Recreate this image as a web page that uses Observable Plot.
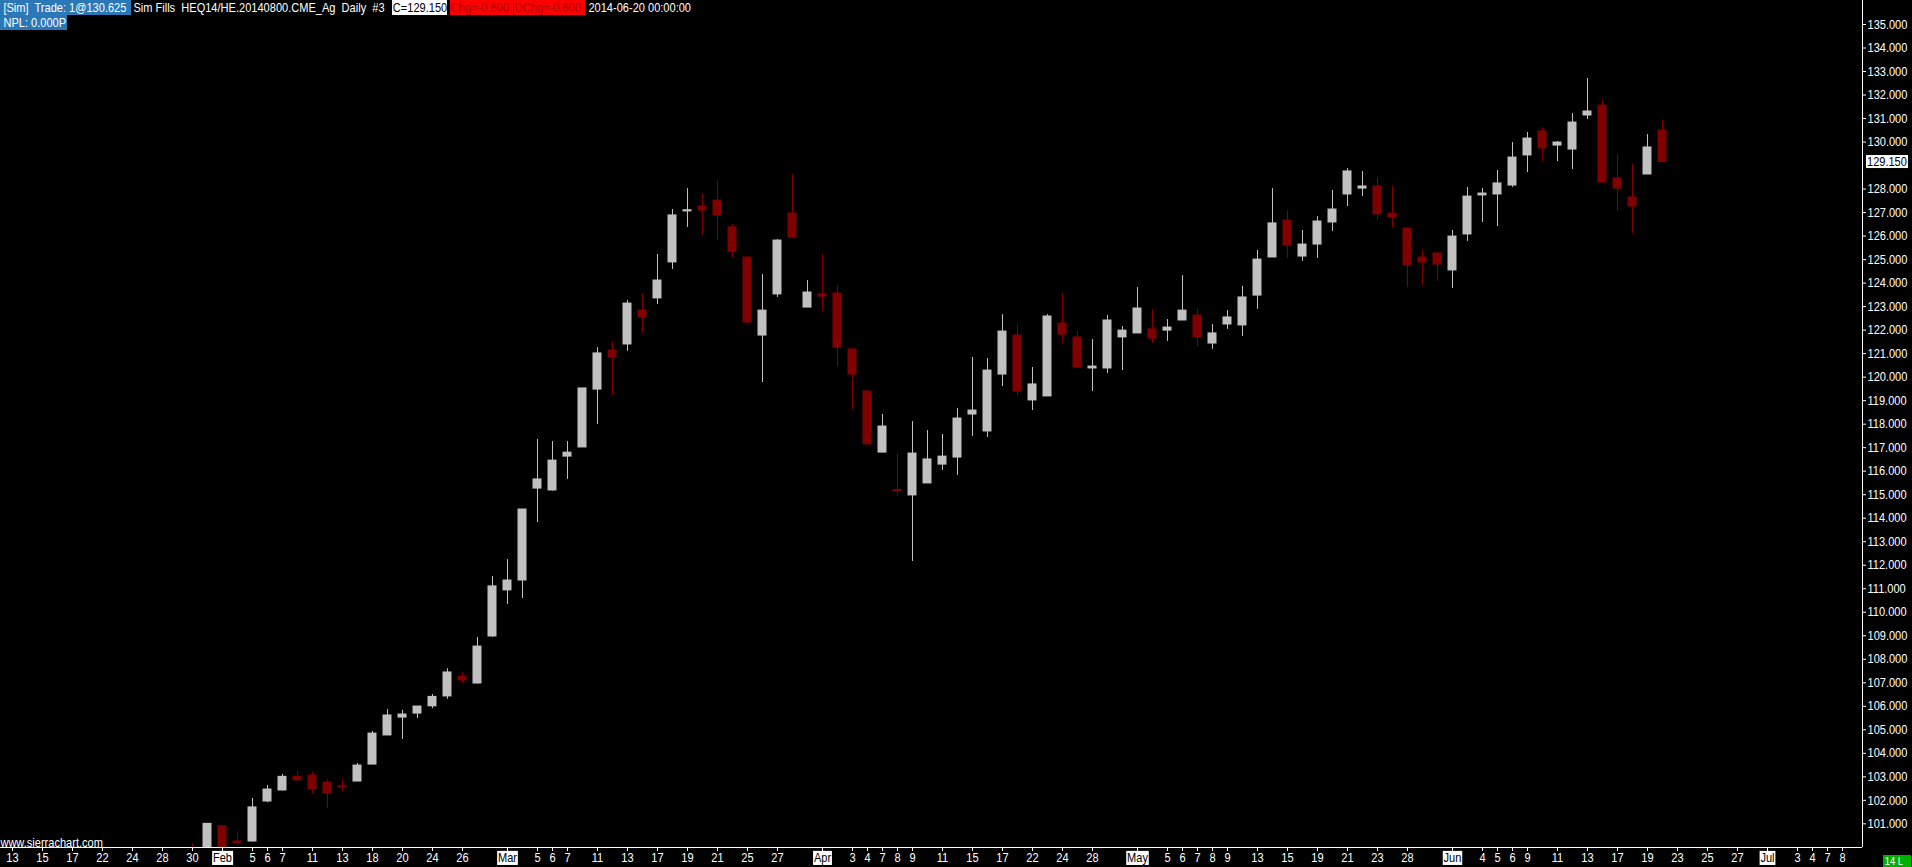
<!DOCTYPE html>
<html><head><meta charset="utf-8">
<script src="https://cdn.jsdelivr.net/npm/d3@7"></script>
<script src="https://cdn.jsdelivr.net/npm/@observablehq/plot@0.6"></script>
<style>
html,body{margin:0;padding:0;background:#000;overflow:hidden}
#wrap{position:relative;width:1912px;height:867px;font-family:"Liberation Sans",Arial,sans-serif;font-size:13px;color:#fff}
.hd{position:absolute;height:15px;line-height:15px;white-space:pre;box-sizing:border-box;overflow:hidden}
.hd span{display:inline-block;transform:scaleX(0.85);transform-origin:0 50%;padding-left:4px}
</style></head><body><div id="wrap"></div>
<script>
// Session calendar (bar slots on the x axis)
const janDays = [13,14,15,16,17,21,22,23,24,27,28,29,30,31];
const febDays = [3,4,5,6,7,10,11,12,13,14,18,19,20,21,24,25,26,27,28];
const marDays = [3,4,5,6,7,10,11,12,13,14,17,18,19,20,21,24,25,26,27,28,31];
const aprDays = [1,2,3,4,7,8,9,10,11,14,15,16,17,21,22,23,24,25,28,29,30];
const mayDays = [1,2,5,6,7,8,9,12,13,14,15,16,19,20,21,22,23,27,28,29,30];
const junDays = [2,3,4,5,6,9,10,11,12,13,16,17,18,19,20,23,24,25,26,27,30];
const julDays = [1,2,3,4,7,8];
const monthNames = ["Jan","Feb","Mar","Apr","May","Jun","Jul"];

// x-axis labelled sessions ("M-D")
const tickDates = ["1-13","1-15","1-17","1-22","1-24","1-28","1-30","2-3","2-5","2-6","2-7","2-11","2-13","2-18","2-20","2-24","2-26",
 "3-3","3-5","3-6","3-7","3-11","3-13","3-17","3-19","3-21","3-25","3-27","4-1","4-3","4-4","4-7","4-8","4-9","4-11","4-15","4-17","4-22","4-24","4-28",
 "5-1","5-5","5-6","5-7","5-8","5-9","5-13","5-15","5-19","5-21","5-23","5-28","6-2","6-4","6-5","6-6","6-9","6-11","6-13","6-17","6-19","6-23","6-25","6-27",
 "7-1","7-3","7-4","7-7","7-8"];

// Price axis labels
const yTicks = [101,102,103,104,105,106,107,108,109,110,111,112,113,114,115,116,117,118,119,120,121,122,123,124,125,126,127,128,130,131,132,133,134,135];
const lastPrice = 129.15;

// Daily OHLC, HEQ14, from 2014-01-30 to 2014-06-20
const firstCandle = "1-30";
const opens = [99.9,99.7,100.9,100.25,100.25,101.95,102.42,103.0,103.06,102.76,102.6,102.8,103.52,104.76,105.52,105.69,106.0,106.42,107.25,106.97,108.97,
 110.93,111.35,115.26,115.18,116.62,117.01,119.47,121.13,121.39,122.83,123.35,124.88,127.05,127.26,127.51,126.37,125.09,121.77,123.52,126.96,122.96,
 123.52,123.56,121.18,119.39,116.79,115.2,114.97,115.48,116.28,116.58,118.41,117.69,120.11,121.77,119.01,119.18,122.28,121.69,120.37,120.37,121.69,
 121.86,122.03,121.98,122.41,122.62,121.43,122.24,122.2,123.47,125.09,126.66,125.13,125.64,126.58,127.77,128.02,128.11,126.96,126.32,125.09,125.26,
 124.54,126.07,127.73,127.77,128.15,129.43,130.45,129.85,129.68,131.13,131.55,128.45,127.64,128.62,130.49];
const highs = [100.15,101.0,100.93,100.67,102.08,102.63,103.1,103.23,103.19,102.89,102.84,103.57,104.93,105.86,105.82,105.99,106.5,107.6,107.45,108.93,111.52,
 112.24,114.37,117.35,117.26,117.26,119.52,121.26,121.52,123.26,123.52,125.22,127.13,128.02,127.81,128.36,126.49,125.09,124.37,125.85,128.62,124.11,
 125.22,123.9,121.18,119.39,118.41,116.71,118.11,117.73,117.56,118.67,120.84,120.79,122.66,122.24,120.41,122.66,123.56,121.94,121.6,122.62,122.15,
 123.81,122.88,122.45,124.32,122.92,122.24,122.83,123.86,125.39,128.02,127.09,126.24,126.83,127.94,128.87,128.75,128.49,128.11,126.35,125.43,125.3,
 126.24,128.07,128.02,128.79,129.98,130.41,130.62,130.02,131.21,132.7,131.77,129.47,129.04,130.32,130.92];
const lows = [99.3,99.5,99.6,100.08,100.22,101.9,102.4,102.8,102.29,101.65,102.38,102.8,103.52,104.76,104.59,105.48,105.9,106.3,106.97,106.95,108.93,
 110.33,110.58,113.82,115.15,115.65,117.01,117.99,119.22,121.09,121.86,123.09,124.58,126.37,126.03,125.81,125.05,122.32,119.77,123.39,125.94,122.96,
 122.75,120.45,118.62,117.14,116.79,114.92,112.16,115.48,116.03,115.82,117.48,117.43,119.6,119.18,118.58,119.18,121.39,120.41,119.39,120.16,120.28,
 121.86,121.43,121.52,122.41,121.3,121.18,122.03,121.73,122.88,125.09,125.05,124.92,125.05,126.2,127.26,127.68,126.66,126.37,123.81,123.9,124.07,
 123.77,125.77,126.58,126.41,128.07,128.7,129.17,129.17,128.83,130.96,128.28,127.05,126.11,128.62,129.13];
const closes = [99.6,101.0,99.85,100.17,101.7,102.46,103.0,102.85,102.46,102.29,102.55,103.48,104.84,105.61,105.65,105.99,106.4,107.44,107.1,108.54,111.1,
 111.35,114.37,115.65,116.45,116.79,119.52,121.01,120.84,123.13,122.54,124.11,126.88,127.1,127.09,126.88,125.34,122.32,122.83,125.81,125.94,123.6,
 123.43,121.26,120.11,117.14,117.9,115.15,116.75,116.5,116.62,118.24,118.58,120.28,121.94,119.39,119.69,122.58,121.81,120.41,120.45,122.41,121.98,
 122.92,121.64,122.11,122.83,121.69,121.86,122.54,123.39,125.0,126.54,125.6,125.64,126.62,127.13,128.75,128.11,126.92,126.79,124.75,124.88,124.79,
 125.98,127.68,127.81,128.24,129.34,130.15,129.73,129.98,130.83,131.3,128.28,128.02,127.26,129.77,129.15];

const UP = "#c0c0c0", DOWN = "#800000";
const SX = 0.85; // horizontal squeeze of the narrow chart font

const sessions = [];
[janDays,febDays,marDays,aprDays,mayDays,junDays,julDays].forEach((days,m) => days.forEach(d => sessions.push({m, d, key: `${m+1}-${d}`})));
const indexOf = key => sessions.findIndex(s => s.key === key);
const firstIdx = indexOf(firstCandle);
const bars = opens.map((o,k) => ({i: firstIdx + k, o, h: highs[k], l: lows[k], c: closes[k], up: closes[k] >= o}));
const tickIdx = tickDates.map(indexOf);
const labelOf = i => {
  const s = sessions[i];
  const prev = sessions[i-1];
  return (!prev || prev.m !== s.m) && i > 0 ? monthNames[s.m] : String(s.d);
};

const W = 1912, H = 867, mR = 50, mB = 20;
const xDomain = [-0.8, 123.3333];
const yDomain = [99.994, 136.021];

const chart = Plot.plot({
  width: W, height: H,
  marginLeft: 0, marginRight: mR, marginTop: 0, marginBottom: mB,
  style: {background: "#000", color: "#fff", fontFamily: '"Liberation Sans",Arial,sans-serif', fontSize: "13px"},
  x: {domain: xDomain, axis: null},
  y: {domain: yDomain, axis: null},
  color: {type: "identity"},
  marks: [
    Plot.ruleX(bars, {x: "i", y1: "l", y2: "h", stroke: d => d.up ? UP : DOWN, strokeWidth: 1, clip: true}),
    Plot.rect(bars, {x1: d => d.i - 0.3, x2: d => d.i + 0.3, y1: d => Math.min(d.o, d.c), y2: d => Math.max(d.o, d.c),
      fill: d => d.up ? UP : DOWN, insetTop: -0.5, insetBottom: -0.5, clip: true}),
    Plot.axisY({anchor: "right", ticks: yTicks, tickSize: 3, tickPadding: 2, tickFormat: d3.format(".3f"), stroke: "#fff", fill: "#fff"}),
    Plot.axisX({anchor: "bottom", ticks: tickIdx, tickSize: 4, tickPadding: 1, tickFormat: labelOf, stroke: "#fff", fill: "#fff"}),
    Plot.ruleX([xDomain[1]], {stroke: "#fff", strokeWidth: 1}),
    Plot.ruleY([yDomain[0]], {stroke: "#fff", strokeWidth: 1})
  ]
});

const wrap = document.getElementById("wrap");
wrap.appendChild(chart);
const svg = d3.select(chart);

// narrow the axis label glyphs
svg.selectAll('g[aria-label="y-axis tick label"] text, g[aria-label="x-axis tick label"] text').each(function() {
  const tr = this.getAttribute("transform") || "";
  this.setAttribute("transform", tr + ` scale(${SX},1)`);
});

// month labels: white box, black text
svg.selectAll('g[aria-label="x-axis tick label"] text').each(function() {
  const t = this.textContent;
  if (monthNames.includes(t)) {
    const b = this.getBBox();
    const r = document.createElementNS("http://www.w3.org/2000/svg", "rect");
    r.setAttribute("x", b.x - 1); r.setAttribute("y", b.y + 1); r.setAttribute("width", b.width + 2); r.setAttribute("height", b.height - 1);
    r.setAttribute("fill", "#fff");
    r.setAttribute("transform", this.getAttribute("transform"));
    this.parentNode.insertBefore(r, this);
    this.setAttribute("fill", "#000");
  }
});

// last price marker on the price axis
const ys = chart.scale("y");
const xs = chart.scale("x");
const py = ys.apply(lastPrice);
const px = xs.apply(xDomain[1]) + 4;
const g = svg.append("g");
g.append("rect").attr("x", px).attr("y", py - 6.5).attr("width", 42).attr("height", 13).attr("fill", "#fff");
g.append("text").attr("transform", `translate(${px + 1},${py}) scale(${SX},1)`).attr("dy", "0.36em")
  .attr("text-anchor", "start").attr("fill", "#000").attr("font-size", 13).text(d3.format(".3f")(lastPrice));

// header & overlays
const hdr = [
  {left: 0, top: 0, width: 131, bg: "#2a78b8", color: "#fff", text: "[Sim]  Trade: 1@130.625"},
  {left: 130, top: 0, bg: null, color: "#fff", text: "Sim Fills  HEQ14/HE.20140800.CME_Ag  Daily  #3"},
  {left: 392, top: 0, width: 55, bg: "#fff", color: "#000", text: "C=129.150", pad: 1},
  {left: 450, top: 0, width: 63, bg: "#ff0000", color: "#b00000", text: "Chg=-0.600", pad: 1},
  {left: 514, top: 0, width: 71, bg: "#ff0000", color: "#b00000", text: "DChg=-0.600", pad: 1},
  {left: 585, top: 0, bg: null, color: "#fff", text: "2014-06-20 00:00:00"},
  {left: 0, top: 15, width: 67, bg: "#2a78b8", color: "#fff", text: "NPL: 0.000P"},
  {left: -3, top: 835, bg: null, color: "#fff", text: "www.sierrachart.com"},
  {left: 1883, top: 855, width: 28, height: 12, bg: "#00b000", color: "#fff", text: "14 L", pad: 2, size: 11}
];
hdr.forEach(h => {
  const s = document.createElement("div");
  s.className = "hd";
  s.style.left = h.left + "px"; s.style.top = h.top + "px";
  if (h.width) s.style.width = h.width + "px";
  if (h.height) { s.style.height = h.height + "px"; s.style.lineHeight = h.height + "px"; }
  if (h.size) s.style.fontSize = h.size + "px";
  if (h.bg) s.style.background = h.bg;
  s.style.color = h.color;
  const inner = document.createElement("span");
  if (h.pad != null) inner.style.paddingLeft = h.pad + "px";
  inner.textContent = h.text;
  s.appendChild(inner);
  wrap.appendChild(s);
});
</script></body></html>
